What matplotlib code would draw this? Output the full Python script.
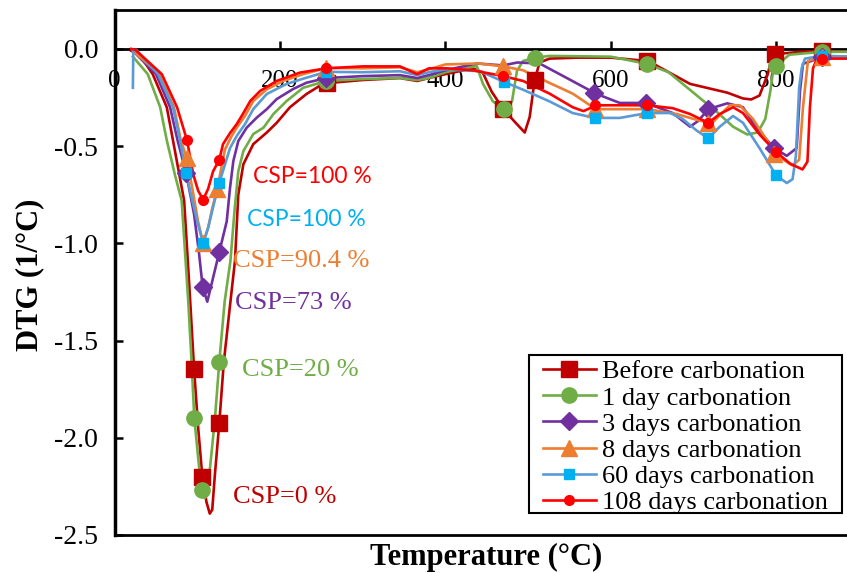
import matplotlib
matplotlib.use("Agg")
import matplotlib.pyplot as plt
from matplotlib.lines import Line2D
from matplotlib.patches import Rectangle

plt.rcParams["axes.unicode_minus"] = False
SERIF = "Liberation Serif"

# ---- data (temperature in C, DTG in 1/C) ----
before_t = [20, 30, 46, 63, 70.5, 77, 84, 90, 96, 101, 106, 111, 115, 118, 121, 126.5, 132, 140,
            145.5, 149.5, 155.6, 167.6, 184, 196, 212, 232, 248, 260, 300, 345, 366, 380, 400, 433,
            445, 456, 470, 485, 496, 502, 508, 514, 526, 560, 600, 644, 656, 696, 741, 760, 770,
            780, 790, 795, 799, 830, 856, 890]
before_v = [-0.01, -0.03, -0.13, -0.30, -0.47, -0.62, -0.78, -1.2, -1.645, -1.95, -2.2, -2.33, -2.39,
            -2.37, -2.2, -1.925, -1.61, -1.3, -1.09, -0.75, -0.594, -0.49, -0.43, -0.38, -0.30, -0.232,
            -0.19, -0.175, -0.16, -0.15, -0.165, -0.15, -0.13, -0.10, -0.12, -0.22, -0.31, -0.38,
            -0.43, -0.35, -0.16, -0.07, -0.05, -0.045, -0.045, -0.062, -0.087, -0.18, -0.225, -0.255,
            -0.26, -0.24, -0.13, -0.04, -0.027, -0.015, -0.01, -0.015]
before_mt = [96, 106, 126.5, 257, 470, 508, 644, 799, 856]
before_mv = [-1.645, -2.2, -1.925, -0.175, -0.31, -0.16, -0.062, -0.027, -0.01]

day1_t = [22, 40, 55, 63, 73, 81, 89, 93, 96.3, 103, 106, 109, 114.5, 121.3, 126.5, 133, 140, 145,
          149.5, 155.6, 167.6, 180, 192, 208, 228, 248, 256, 300, 345, 366, 380, 400, 438, 445.5,
          457.5, 471, 480.6, 486.6, 494, 508, 526, 600, 644, 670, 690, 710, 730, 748, 765, 778, 787,
          793, 797, 800, 816, 856, 890]
day1_v = [-0.04, -0.13, -0.30, -0.47, -0.65, -0.78, -1.3, -1.61, -1.9, -2.19, -2.27, -2.31, -2.19,
          -1.9, -1.61, -1.3, -1.09, -0.83, -0.63, -0.526, -0.438, -0.405, -0.335, -0.268, -0.20,
          -0.175, -0.165, -0.155, -0.15, -0.16, -0.15, -0.12, -0.088, -0.18, -0.27, -0.31, -0.27,
          -0.113, -0.062, -0.046, -0.036, -0.04, -0.077, -0.12, -0.19, -0.26, -0.33, -0.40, -0.44,
          -0.43, -0.36, -0.22, -0.10, -0.088, -0.03, -0.015, -0.015]
day1_mt = [96.3, 106, 126.5, 256, 471, 508, 644, 800, 856]
day1_mv = [-1.9, -2.27, -1.61, -0.165, -0.31, -0.046, -0.077, -0.088, -0.015]

day3_t = [22, 50, 67, 76, 86.5, 96, 102, 106.4, 112, 117.7, 126.5, 135.5, 139.5, 143.5, 149.5, 159.7,
          171.7, 184, 196, 216, 232, 256, 300, 345, 366, 380, 400, 438, 470, 487, 514, 547, 571.5,
          580, 611, 643, 675, 696, 706, 718, 741, 760, 777, 797.6, 813, 825, 829, 832.6, 849.5, 856,
          890]
day3_v = [-0.01, -0.13, -0.30, -0.47, -0.64, -0.85, -1.05, -1.225, -1.30, -1.2, -1.045, -0.887,
          -0.715, -0.577, -0.474, -0.405, -0.354, -0.31, -0.258, -0.206, -0.174, -0.15, -0.14,
          -0.135, -0.15, -0.135, -0.11, -0.075, -0.085, -0.07, -0.075, -0.15, -0.206, -0.227,
          -0.278, -0.278, -0.33, -0.40, -0.37, -0.31, -0.28, -0.30, -0.41, -0.51, -0.55, -0.51,
          -0.216, -0.077, -0.052, -0.04, -0.04]
day3_mt = [86.5, 106.4, 126.5, 256, 580, 643, 718, 797.6, 856]
day3_mv = [-0.64, -1.225, -1.045, -0.15, -0.227, -0.278, -0.31, -0.51, -0.04]

day8_t = [22, 54, 71.7, 80, 87, 94, 100.8, 107, 113, 118, 124, 133.4, 141.5, 147.6, 157.6, 167.6,
          184, 203.6, 228, 256, 300, 345, 366, 380, 400, 440, 470, 494, 526, 554, 575, 581, 644,
          680, 700, 718, 723, 744, 756, 772, 789, 798, 820, 828, 832.6, 838.6, 856, 890]
day8_v = [-0.01, -0.13, -0.30, -0.47, -0.56, -0.72, -0.887, -1.0, -0.92, -0.82, -0.72, -0.517,
          -0.448, -0.405, -0.345, -0.268, -0.208, -0.165, -0.13, -0.098, -0.10, -0.095, -0.12,
          -0.105, -0.08, -0.075, -0.09, -0.11, -0.175, -0.23, -0.29, -0.31, -0.31, -0.335, -0.36,
          -0.38, -0.38, -0.29, -0.29, -0.36, -0.47, -0.54, -0.60, -0.57, -0.30, -0.062, -0.04, -0.04]
day8_mt = [87, 107, 124, 256, 470, 581, 644, 718, 798, 856]
day8_mv = [-0.56, -1.0, -0.72, -0.098, -0.09, -0.31, -0.31, -0.38, -0.54, -0.04]

day60_t = [22, 22.5, 26, 52.4, 70.5, 79, 86.5, 95, 100, 107, 113, 121, 126.5, 133, 139.5, 147.6,
           157.6, 167.6, 184, 208, 232, 256, 300, 345, 366, 380, 400, 442, 471, 494, 526, 554, 581,
           611, 644, 672, 687, 704, 718, 732, 748, 760, 780, 800, 813, 820, 824, 828, 831, 835,
           856, 890]
day60_v = [-0.2, -0.01, -0.005, -0.13, -0.30, -0.47, -0.64, -0.80, -0.89, -1.0, -0.92, -0.78, -0.69,
           -0.6, -0.51, -0.448, -0.387, -0.31, -0.232, -0.18, -0.148, -0.118, -0.12, -0.115, -0.135,
           -0.12, -0.105, -0.115, -0.17, -0.21, -0.27, -0.33, -0.355, -0.355, -0.33, -0.33, -0.36,
           -0.42, -0.46, -0.40, -0.345, -0.38, -0.51, -0.65, -0.69, -0.67, -0.55, -0.2, -0.1, -0.05,
           -0.035, -0.04]
day60_mt = [86.5, 107, 126.5, 256, 471, 581, 644, 718, 800, 856]
day60_mv = [-0.64, -1.0, -0.69, -0.118, -0.17, -0.355, -0.33, -0.46, -0.65, -0.035]

day108_t = [20, 25, 57, 75.4, 87.5, 95, 101, 107, 113, 119, 126.5, 131, 139.5, 147.6, 155, 164, 176,
            196, 224, 256, 300, 345, 366, 380, 402, 433, 470, 494, 526, 554, 567, 575, 581, 611, 644,
            675, 696, 718, 732, 748, 760, 780, 800, 817, 832, 838, 841, 844.7, 849.5, 856, 890]
day108_v = [0.0, -0.005, -0.13, -0.30, -0.47, -0.645, -0.73, -0.775, -0.72, -0.63, -0.57, -0.49,
            -0.433, -0.387, -0.335, -0.268, -0.216, -0.165, -0.122, -0.10, -0.09, -0.09, -0.13,
            -0.10, -0.10, -0.11, -0.14, -0.165, -0.23, -0.30, -0.32, -0.305, -0.29, -0.29, -0.29,
            -0.305, -0.335, -0.38, -0.335, -0.30, -0.33, -0.44, -0.53, -0.59, -0.62, -0.58, -0.3,
            -0.1, -0.05, -0.05, -0.05]
day108_mt = [87.5, 107, 126.5, 256, 470, 581, 644, 718, 800, 856]
day108_mv = [-0.47, -0.775, -0.57, -0.10, -0.14, -0.29, -0.29, -0.38, -0.53, -0.05]

labels = ["Before carbonation", "1 day carbonation", "3 days carbonation",
          "8 days carbonation", "60 days carbonation", "108 days carbonation"]

csp_text = ["CSP=100 %", "CSP=100 %", "CSP=90.4 %", "CSP=73 %", "CSP=20 %", "CSP=0 %"]
csp_t = [167, 160, 143, 145.5, 154, 143]
csp_v = [-0.655, -0.876, -1.093, -1.309, -1.649, -2.304]

x_ticks = [0, 200, 400, 600, 800]
y_ticks = [0.0, -0.5, -1.0, -1.5, -2.0, -2.5]

# ---- styles ----
styles = [
    dict(line="#C00000", mk="#C00000", marker="s", ms=11),
    dict(line="#70AD47", mk="#70AD47", marker="o", ms=11),
    dict(line="#7030A0", mk="#7030A0", marker="D", ms=9),
    dict(line="#ED7D31", mk="#ED7D31", marker="^", ms=12),
    dict(line="#5B9BD5", mk="#00B0F0", marker="s", ms=6.5),
    dict(line="#FF0000", mk="#FF0000", marker="o", ms=7),
]
csp_colors = ["#FF0000", "#00B0F0", "#ED7D31", "#7030A0", "#70AD47", "#C00000"]
csp_fonts = ["Lato", "Lato", SERIF, SERIF, SERIF, SERIF]
csp_sizes = [16.5, 16.5, 19, 19, 19, 19]

series = [
    (before_t, before_v, before_mt, before_mv),
    (day1_t, day1_v, day1_mt, day1_mv),
    (day3_t, day3_v, day3_mt, day3_mv),
    (day8_t, day8_v, day8_mt, day8_mv),
    (day60_t, day60_v, day60_mt, day60_mv),
    (day108_t, day108_v, day108_mt, day108_mv),
]

W, H = 847, 573
fig = plt.figure(figsize=(W / 100, H / 100), dpi=100)
ax = fig.add_axes([114.7 / W, 38 / H, 744 / W, 525 / H])

handles = []
for (t, v, mt, mv), st, lab in zip(series, styles, labels):
    ax.plot(t, v, color=st["line"], lw=1.9, zorder=3)
    ax.plot(mt, mv, ls="none", marker=st["marker"], ms=st["ms"], color=st["mk"],
            mec=st["mk"], zorder=4)
    handles.append(Line2D([], [], color=st["line"], lw=1.9, marker=st["marker"],
                          ms=st["ms"], mfc=st["mk"], mec=st["mk"], label=lab))

for txt, t, v, c, f, s in zip(csp_text, csp_t, csp_v, csp_colors, csp_fonts, csp_sizes):
    ax.text(t, v, txt, color=c, family=f, fontsize=s, ha="left", va="center", zorder=5)

ax.set_xlim(0, 900)
ax.set_ylim(-2.5, 0.2)

ax.spines["bottom"].set_position(("data", 0))
ax.spines["right"].set_visible(False)
for side in ("bottom", "top", "left"):
    ax.spines[side].set_linewidth(2)
ax.spines["left"].set_linewidth(2.5)
ax.axhline(-2.5, color="black", lw=2, clip_on=False, zorder=6)

ax.set_xticks(x_ticks)
ax.set_xticklabels([str(x) for x in x_ticks], family=SERIF, fontsize=18)
ax.set_yticks(y_ticks)
ax.set_yticklabels(["%.1f" % y for y in y_ticks], family=SERIF, fontsize=20)
ax.tick_params(axis="x", direction="in", length=6, width=1.8, pad=15)
ax.tick_params(axis="y", direction="in", length=6, width=1.8, pad=12)

fig.text(30 / W, 1 - 275 / H, "DTG (1/°C)", rotation=90, family=SERIF,
         fontweight="bold", fontsize=22, ha="center", va="center")
fig.text(486 / W, 1 - 557 / H, "Temperature (°C)", family=SERIF,
         fontweight="bold", fontsize=22, ha="center", va="center")

# legend entries without frame, box drawn separately (Excel pads it unevenly)
ax.add_patch(Rectangle((529 / W, 1 - 513 / H), 313 / W, 158 / H,
                       transform=fig.transFigure, facecolor="white",
                       edgecolor="black", lw=1.5, zorder=7, clip_on=False))
leg = ax.legend(handles=handles, loc="upper left",
                bbox_to_anchor=(543 / W, 1 - 360 / H), bbox_transform=fig.transFigure,
                borderaxespad=0, prop={"family": SERIF, "size": 19}, labelspacing=0.1,
                handlelength=2.0, handletextpad=0.25, borderpad=0, frameon=False)
leg.set_zorder(8)

fig.savefig("out.png", dpi=100)
